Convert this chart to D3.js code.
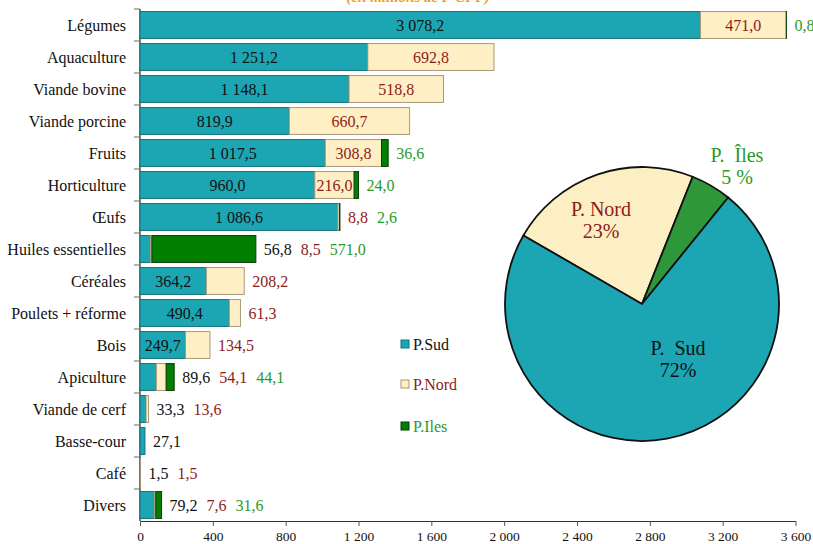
<!DOCTYPE html>
<html>
<head>
<meta charset="utf-8">
<script src="https://cdn.jsdelivr.net/npm/d3@7"></script>
<style>
  body { margin: 0; background: #fff; }
</style>
</head>
<body>
<div id="chart"></div>
<script>
// valeurs en millions de F CFP
const categories = ['Légumes', 'Aquaculture', 'Viande bovine', 'Viande porcine', 'Fruits', 'Horticulture',
    'Œufs', 'Huiles essentielles', 'Céréales', 'Poulets + réforme', 'Bois', 'Apiculture',
    'Viande de cerf', 'Basse-cour', 'Café', 'Divers'];
const sud = [3078.2, 1251.2, 1148.1, 819.9, 1017.5, 960.0, 1086.6, 56.8, 364.2, 490.4, 249.7, 89.6, 33.3, 27.1, 1.5, 79.2];
const nord = [471.0, 692.8, 518.8, 660.7, 308.8, 216.0, 8.8, 8.5, 208.2, 61.3, 134.5, 54.1, 13.6, 0, 1.5, 7.6];
const iles = [0.8, 0, 0, 0, 36.6, 24.0, 2.6, 571.0, 0, 0, 0, 44.1, 0, 0, 0, 31.6];
const xTicks = [0, 400, 800, 1200, 1600, 2000, 2400, 2800, 3200, 3600];
const seriesNames = ['P.Sud', 'P.Nord', 'P.Iles'];
const pieNames = ['P. Nord', 'P.  Îles', 'P.  Sud'];
const piePctLabels = ['23%', '5 %', '72%'];

const width = 813, height = 544;
const font = '"Liberation Serif", serif';
const fill = ['#1ca6b4', '#fef0c4', '#007f00'];
const strokeCol = ['#13707a', '#a8987a', '#0b3d0b'];
const textCol = ['#111', '#8e1b1b', '#2a9a2a'];

const fr = d3.formatLocale({decimal: ',', thousands: '\u00a0', grouping: [3]});
const fmt = fr.format(',.1f');
const fmtTick = fr.format(',');

const svg = d3.select('#chart').append('svg')
    .attr('width', width).attr('height', height)
    .style('font-family', font);

// titre coupé en haut (comme dans l'original)
svg.append('text')
    .attr('x', 418).attr('y', 2)
    .attr('text-anchor', 'middle')
    .attr('fill', '#f0a020')
    .attr('font-size', 15)
    .attr('font-style', 'italic')
    .attr('font-weight', 'bold')
    .text('(en millions de F CFP)');

const xScale = d3.scaleLinear().domain([0, 3600]).range([140, 795.5]);
const yScale = d3.scaleBand().domain(categories).range([9, 521])
    .paddingInner(0.16).paddingOuter(0.08);

const rows = categories.map((c, i) => ({name: c, vals: [sud[i], nord[i], iles[i]]}));

// axe x
const xAxis = svg.append('g').attr('transform', 'translate(0, 521)')
    .call(d3.axisBottom(xScale).tickValues(xTicks).tickFormat(fmtTick).tickSize(5).tickPadding(5).tickSizeOuter(0));
xAxis.attr('font-family', null);
xAxis.select('.domain').attr('stroke', '#333');
xAxis.selectAll('line').attr('stroke', '#555');
xAxis.selectAll('text').attr('font-size', 13.5).attr('fill', '#111');

// axe y
const step = yScale.step();
svg.append('line').attr('x1', 140).attr('x2', 140).attr('y1', 9).attr('y2', 521)
    .attr('stroke', '#222').attr('stroke-width', 1.2);
svg.selectAll('.ytick').data(d3.range(categories.length)).enter().append('line')
    .attr('x1', 134).attr('x2', 140)
    .attr('y1', i => 9 + step * i).attr('y2', i => 9 + step * i)
    .attr('stroke', '#666');
svg.selectAll('.cat').data(categories).enter().append('text')
    .attr('x', 126)
    .attr('y', d => yScale(d) + yScale.bandwidth() / 2)
    .attr('dy', '0.35em')
    .attr('text-anchor', 'end')
    .attr('font-size', 16)
    .attr('fill', '#111')
    .text(d => d);

// barres empilées
const bars = svg.append('g');
const labels = svg.append('g');
rows.forEach(row => {
    let acc = 0;
    const y0 = yScale(row.name);
    const h = yScale.bandwidth();
    const cy = y0 + h / 2;
    const outside = [];
    row.vals.forEach((v, s) => {
        if (v <= 0) return;
        const x0 = xScale(acc), x1 = xScale(acc + v);
        bars.append('rect')
            .attr('x', x0).attr('y', y0)
            .attr('width', x1 - x0).attr('height', h)
            .attr('fill', fill[s]).attr('stroke', strokeCol[s]).attr('stroke-width', 1);
        if (x1 - x0 >= 39 && s < 2) {
            labels.append('text')
                .attr('x', (x0 + x1) / 2).attr('y', cy).attr('dy', '0.35em')
                .attr('text-anchor', 'middle').attr('font-size', 16)
                .attr('fill', textCol[s]).text(fmt(v));
        } else {
            outside.push([v, s]);
        }
        acc += v;
    });
    let tx = xScale(acc) + 8;
    outside.forEach(([v, s]) => {
        const t = labels.append('text')
            .attr('x', tx).attr('y', cy).attr('dy', '0.35em')
            .attr('font-size', 16).attr('fill', textCol[s]).text(fmt(v));
        tx += t.node().getComputedTextLength() + 9;
    });
});

// légende
const legend = svg.append('g');
seriesNames.forEach((n, s) => {
    const ly = [344, 384, 426][s];
    legend.append('rect').attr('x', 401).attr('y', ly - 4).attr('width', 8).attr('height', 8)
        .attr('fill', fill[s]).attr('stroke', strokeCol[s]);
    legend.append('text').attr('x', 413).attr('y', ly).attr('dy', '0.35em')
        .attr('font-size', 16).attr('fill', textCol[s]).text(n);
});

// camembert
const totals = [d3.sum(nord), d3.sum(iles), d3.sum(sud)];
const pieFill = ['#fdefc4', '#2e973a', '#1ca6b4'];
const pieText = ['#8e1b1b', '#2a9a2a', '#111'];
const pie = d3.pie().sort(null).startAngle(-60 * Math.PI / 180).endAngle(300 * Math.PI / 180);
const arc = d3.arc().innerRadius(0).outerRadius(137);
const pg = svg.append('g').attr('transform', 'translate(642, 304)');
pg.selectAll('path').data(pie(totals)).enter().append('path')
    .attr('d', arc)
    .attr('fill', (d, i) => pieFill[i])
    .attr('stroke', '#111').attr('stroke-width', 1.8).attr('stroke-linejoin', 'round');

const pieLabelPos = [[-41, -88], [95, -142], [36, 51]];
totals.forEach((t, i) => {
    const g = pg.append('text').attr('text-anchor', 'middle').attr('font-size', 20).attr('fill', pieText[i])
        .style('white-space', 'pre');
    g.append('tspan').attr('x', pieLabelPos[i][0]).attr('y', pieLabelPos[i][1]).text(pieNames[i]);
    g.append('tspan').attr('x', pieLabelPos[i][0]).attr('y', pieLabelPos[i][1] + 22).text(piePctLabels[i]);
});

svg.selectAll('text').style('font-family', font);
</script>
</body>
</html>
